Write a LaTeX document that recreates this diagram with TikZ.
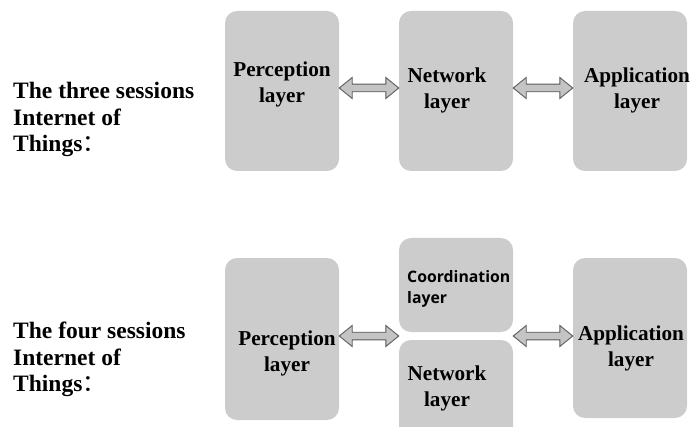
\documentclass[tikz,border=0pt]{standalone}
\usepackage{fontspec}
\setmainfont{Liberation Serif}
\newfontfamily\cjkfont{Noto Sans CJK SC}
\newfontfamily\coordfont{Open Sans}
\usetikzlibrary{calc}
\definecolor{boxgray}{HTML}{CCCCCC}
\definecolor{arrfill}{HTML}{C4C4C4}
\definecolor{arrdraw}{HTML}{5A5A5A}
\tikzset{
  layerbox/.style={fill=boxgray, draw=none, rounded corners=12pt, minimum width=114pt, inner sep=0pt},
  boxtext/.style={font=\fontsize{21.2}{26}\selectfont\bfseries, align=center, inner sep=0pt, text=black},
  sidetext/.style={font=\fontsize{23.5}{26.5}\selectfont\bfseries, align=left, anchor=north west, inner sep=0pt},
  arr/.style={fill=arrfill, draw=arrdraw, line width=0.9pt, line join=miter}
}
\newcommand{\dblarr}[2]{%
  \path[arr] let \p1=(#1), \p2=(#2) in
    (\x1,\y1) -- (\x1+13pt,\y1+10.5pt) -- (\x1+13pt,\y1+3.8pt) -- (\x2-13pt,\y1+3.8pt)
    -- (\x2-13pt,\y1+10.5pt) -- (\x2,\y1) -- (\x2-13pt,\y1-10.5pt) -- (\x2-13pt,\y1-3.8pt)
    -- (\x1+13pt,\y1-3.8pt) -- (\x1+13pt,\y1-10.5pt) -- cycle;}
\begin{document}
\begin{tikzpicture}[x=1pt,y=-1pt]
\useasboundingbox (0,0) rectangle (692,427);
\begin{scope}
\clip (0,0) rectangle (692,427);
% top row
\node[layerbox, minimum height=160pt] (p1) at (282,91) {};
\node[layerbox, minimum height=160pt] (n1) at (456,91) {};
\node[layerbox, minimum height=160pt] (a1) at (630,91) {};
% bottom row
\node[layerbox, minimum height=162pt] (p2) at (282,339) {};
\node[layerbox, minimum height=94pt] (c2) at (456,285) {};
\node[layerbox, minimum height=100pt] (n2) at (456,390) {};
\node[layerbox, minimum height=160pt] (a2) at (630,338) {};
\end{scope}

% texts in boxes
\node[boxtext] (tp1) at (282,84) {Perception\\layer};
\node[boxtext] (tn1) at (447,90) {Network\\layer};
\node[boxtext] (ta1) at (637,90) {Application\\layer};
\node[boxtext] (tp2) at (287,353) {Perception\\layer};
\node[font=\coordfont\fontsize{15.8}{21}\selectfont\bfseries, align=left, anchor=north west, inner sep=0pt] (tc2) at (407,270) {Coordination\\layer};
\node[boxtext] (tn2) at (447,388) {Network\\layer};
\node[boxtext] (ta2) at (631,348) {Application\\layer};

% side texts
\node[sidetext] (s1) at (13,82) {The three sessions\\Internet of\\Things{\cjkfont\mdseries ：}};
\node[sidetext] (s2) at (13,322) {The four sessions\\Internet of\\Things{\cjkfont\mdseries ：}};

% arrows
\coordinate (l1a) at ($(p1.east)+(0,-3)$);
\coordinate (l1b) at ($(n1.west)+(0,-3)$);
\coordinate (r1a) at ($(n1.east)+(0,-3)$);
\coordinate (r1b) at ($(a1.west)+(0,-3)$);
\coordinate (l2a) at (p2.east |- 0,336);
\coordinate (l2b) at (c2.west |- 0,336);
\coordinate (r2a) at (c2.east |- 0,336);
\coordinate (r2b) at (a2.west |- 0,336);
\dblarr{l1a}{l1b}
\dblarr{r1a}{r1b}
\dblarr{l2a}{l2b}
\dblarr{r2a}{r2b}
\end{tikzpicture}
\end{document}
